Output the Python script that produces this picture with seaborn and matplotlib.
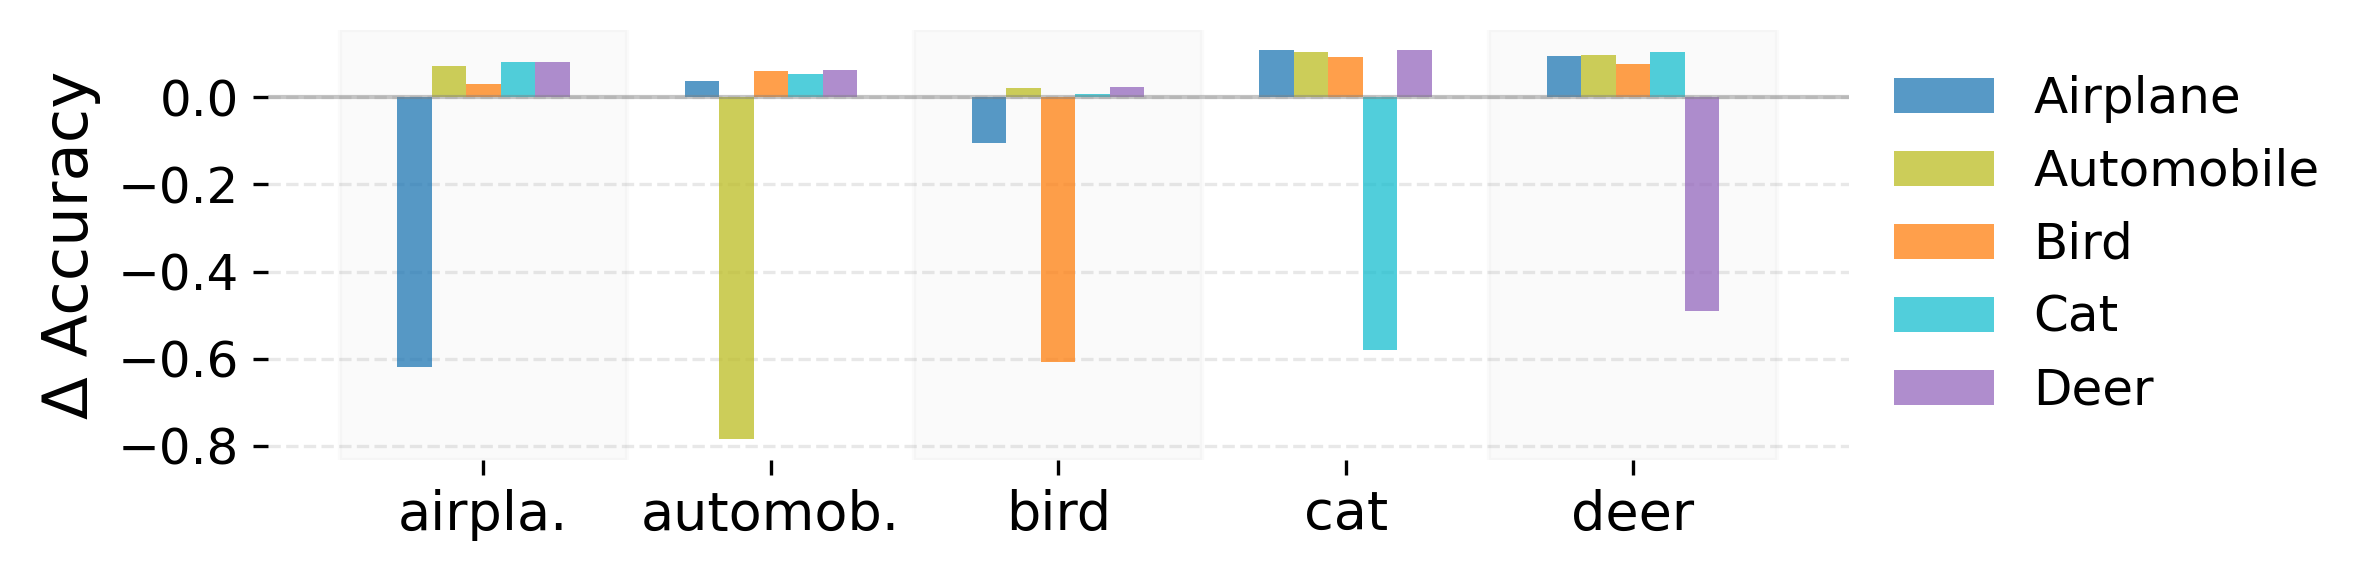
import matplotlib
matplotlib.use("Agg")
import matplotlib.pyplot as plt
import numpy as np
import pandas as pd
import seaborn as sns

# Data
groups = ["airpla.", "automob.", "bird", "cat", "deer"]
series = ["Airplane", "Automobile", "Bird", "Cat", "Deer"]
airplane = [-0.619, 0.038, -0.105, 0.109, 0.094]
automobile = [0.072, -0.785, 0.021, 0.104, 0.097]
bird = [0.030, 0.060, -0.607, 0.092, 0.076]
cat = [0.081, 0.053, 0.008, -0.580, 0.104]
deer = [0.081, 0.063, 0.023, 0.109, -0.490]
colors = ["tab:blue", "tab:olive", "tab:orange", "tab:cyan", "tab:purple"]

values = [airplane, automobile, bird, cat, deer]
rows = []
for name, vals in zip(series, values):
    for g, v in zip(groups, vals):
        rows.append({"group": g, "series": name, "delta": v})
df = pd.DataFrame(rows)

sns.set_style("white")
plt.rcParams['font.family'] = ['DejaVu Sans']
plt.rcParams['text.color'] = 'black'
plt.rcParams['axes.labelcolor'] = 'black'
plt.rcParams['xtick.color'] = 'black'
plt.rcParams['ytick.color'] = 'black'

fig, ax = plt.subplots(figsize=(7.9, 571 / 300), dpi=300)
fig.subplots_adjust(left=0.113, right=0.780, top=0.947, bottom=0.195)

# shaded bands behind every other group
for i in range(0, len(groups), 2):
    ax.axvspan(i - 0.5, i + 0.5, color="gray", alpha=0.035, zorder=0)

sns.barplot(data=df, x="group", y="delta", hue="series", hue_order=series,
            order=groups, palette=colors, saturation=1, alpha=0.75,
            width=0.6, errorbar=None, linewidth=0, ax=ax, zorder=2)

ax.axhline(0, color="gray", alpha=0.45, linewidth=1.0, zorder=3)

ax.set_xlim(-0.75, 4.75)
ax.set_ylim(-0.832, 0.154)
ax.set_yticks([-0.8, -0.6, -0.4, -0.2, 0.0])
ax.set_axisbelow(True)
ax.yaxis.grid(True, linestyle="--", color="gray", alpha=0.18, linewidth=0.8)
ax.xaxis.grid(False)

for s in ax.spines.values():
    s.set_visible(False)

ax.tick_params(axis="both", which="major", length=3.5, width=0.8,
               color="black", bottom=True, left=True)
ax.tick_params(axis="x", labelsize=13)
ax.tick_params(axis="y", labelsize=12)
ax.set_xlabel("")
ax.set_ylabel("Δ Accuracy", fontsize=15)

handles, labels = ax.get_legend_handles_labels()
ax.legend(handles, labels, frameon=False, loc="center left",
          bbox_to_anchor=(1.0, 0.5), fontsize=12, labelspacing=0.5)

plt.savefig("out.png", dpi=300)
